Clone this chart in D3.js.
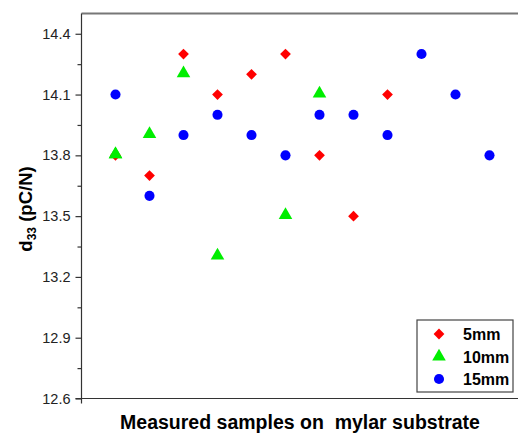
<!DOCTYPE html>
<meta charset="utf-8">
<style>
body {
  margin: 0;
  font-family: Arial, "Liberation Sans", sans-serif;
}
.axis path, .axis line {
  stroke: #333;
  stroke-width: 1.2;
}
.axis text {
  font-size: 14.5px;
  fill: #222;
}
</style>
<body>
<script src="https://cdn.jsdelivr.net/npm/d3@7"></script>
<script>

var width = 518,
    height = 433;

// sample index along x
var samples5 = [1, 2, 3, 4, 5, 6, 7, 8, 9];
var values5 = [13.8, 13.7, 14.3, 14.1, 14.2, 14.3, 13.8, 13.5, 14.1];

var samples10 = [1, 2, 3, 4, 6, 7];
var values10 = [13.8, 13.9, 14.2, 13.3, 13.5, 14.1];

var samples15 = [1, 2, 3, 4, 5, 6, 7, 8, 9, 10, 11, 12];
var values15 = [14.1, 13.6, 13.9, 14.0, 13.9, 13.8, 14.0, 14.0, 13.9, 14.3, 14.1, 13.8];

var yTicks = [12.6, 12.9, 13.2, 13.5, 13.8, 14.1, 14.4];
var seriesNames = ["5mm", "10mm", "15mm"];

var svg = d3.select("body").append("svg")
    .attr("width", width)
    .attr("height", height);

var x = d3.scaleLinear().domain([0, 13]).range([81.5, 81.5 + 13 * 34]);
var y = d3.scaleLinear().domain([12.6, 14.5]).range([398.5, 13.5]);

// top frame line
svg.append("line")
    .attr("x1", x(0)).attr("x2", width)
    .attr("y1", y(14.5)).attr("y2", y(14.5))
    .attr("stroke", "#777").attr("stroke-width", 2);

// bottom axis line (no ticks)
svg.append("line")
    .attr("x1", x(0) - 6).attr("x2", width)
    .attr("y1", y(12.6)).attr("y2", y(12.6))
    .attr("stroke", "#333").attr("stroke-width", 1.2);

// minor ticks
var minor = d3.range(0, 6).map(function(i) { return 12.75 + i * 0.3; });
svg.append("g")
    .attr("class", "axis")
    .attr("transform", "translate(" + x(0) + ",0)")
    .call(d3.axisLeft(y).tickValues(minor).tickSize(4).tickFormat(""))
    .select(".domain").remove();

var yAxis = svg.append("g")
    .attr("class", "axis")
    .attr("transform", "translate(" + x(0) + ",0)")
    .call(d3.axisLeft(y).tickValues(yTicks).tickSize(6).tickSizeOuter(0).tickPadding(5).tickFormat(d3.format(".1f")));
yAxis.select(".domain").attr("d", "M0," + (y(14.5)) + "V" + (y(12.6) + 5));

var diamond = d3.symbol().type(d3.symbolSquare).size(58);
var triangle = d3.symbol().type(d3.symbolTriangle).size(80);
var circle = d3.symbol().type(d3.symbolCircle).size(80);

svg.append("g").selectAll("path")
    .data(samples15)
  .enter().append("path")
    .attr("d", circle)
    .attr("fill", "#0000ff")
    .attr("transform", function(d, i) { return "translate(" + x(d) + "," + y(values15[i]) + ")"; });

svg.append("g").selectAll("path")
    .data(samples10)
  .enter().append("path")
    .attr("d", triangle)
    .attr("fill", "#00ee00")
    .attr("transform", function(d, i) { return "translate(" + x(d) + "," + (y(values10[i]) - 1) + ")"; });

svg.append("g").selectAll("path")
    .data(samples5)
  .enter().append("path")
    .attr("d", diamond)
    .attr("fill", "#ff0000")
    .attr("transform", function(d, i) { return "translate(" + x(d) + "," + y(values5[i]) + ") rotate(45)"; });

// redraw green over red where they coincide (first sample)
svg.append("path")
    .attr("d", triangle)
    .attr("fill", "#00ee00")
    .attr("transform", "translate(" + x(samples10[0]) + "," + (y(values10[0]) - 1) + ")");

// legend
var legend = svg.append("g").attr("transform", "translate(417,320)");
legend.append("rect")
    .attr("width", 96).attr("height", 72)
    .attr("fill", "#fff").attr("stroke", "#444").attr("stroke-width", 1.2);

var shapes = [diamond, triangle, circle];
var colors = ["#ff0000", "#00ee00", "#0000ff"];
seriesNames.forEach(function(name, i) {
  var cy = 14 + i * 22.5;
  legend.append("path")
      .attr("d", shapes[i])
      .attr("fill", colors[i])
      .attr("transform", "translate(22," + cy + ")" + (i == 0 ? " rotate(45)" : ""));
  legend.append("text")
      .attr("x", 46).attr("y", cy + 6)
      .attr("font-size", "16px").attr("font-weight", "bold")
      .text(name);
});

// axis titles
svg.append("text")
    .attr("x", 300).attr("y", 429)
    .attr("text-anchor", "middle")
    .attr("font-size", "19.5px").attr("font-weight", "bold")
    .attr("xml:space", "preserve")
    .text("Measured samples on  mylar substrate");

var yl = svg.append("text")
    .attr("transform", "translate(32,209) rotate(-90)")
    .attr("text-anchor", "middle")
    .attr("font-size", "18.5px").attr("font-weight", "bold");
yl.append("tspan").text("d");
yl.append("tspan").attr("font-size", "12px").attr("dy", 4).text("33");
yl.append("tspan").attr("dy", -4).text(" (pC/N)");

</script>
